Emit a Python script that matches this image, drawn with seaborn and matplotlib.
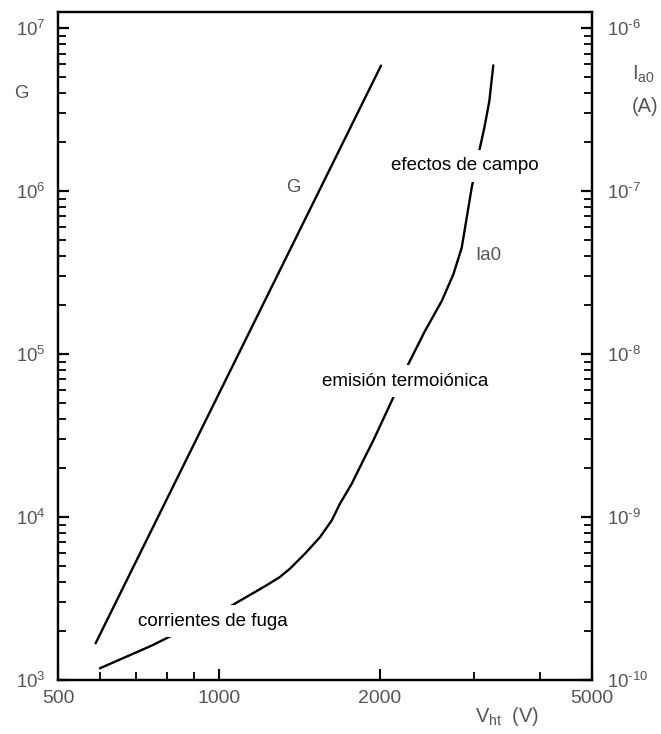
import matplotlib
matplotlib.use("Agg")
import matplotlib.pyplot as plt
import numpy as np
import seaborn as sns
from matplotlib import font_manager
from matplotlib.ticker import FixedLocator, LogLocator, NullFormatter, FuncFormatter

# Gain G of the multiplier versus high voltage (straight line on log-log axes)
v_gain = [588, 2013]
gain = [1.68e3, 5.9e6]

# Dark anode current Ia0 versus high voltage
v_ia0 = [599, 747, 1035, 1230, 1302, 1360, 1451, 1548, 1628, 1687, 1774,
         1865, 1947, 2109, 2265, 2434, 2616, 2750, 2851, 2913, 2976, 3076,
         3143, 3211, 3267]
ia0 = [1.18e-10, 1.62e-10, 2.75e-10, 3.82e-10, 4.29e-10, 4.83e-10, 5.97e-10,
       7.54e-10, 9.55e-10, 1.21e-9, 1.60e-9, 2.23e-9, 2.95e-9, 5.18e-9,
       8.70e-9, 1.39e-8, 2.12e-8, 3.09e-8, 4.50e-8, 6.87e-8, 1.05e-7,
       1.78e-7, 2.45e-7, 3.56e-7, 5.92e-7]

x_ticks = [500, 1000, 2000, 5000]
x_tick_labels = ["500", "1000", "2000", "5000"]
x_minor_ticks = [600, 700, 800, 900, 3000, 4000]

installed = {f.name for f in font_manager.fontManager.ttflist}
if "Liberation Sans Narrow" in installed:
    AXIS_FONT = "Liberation Sans Narrow"
    k = 1.1
else:
    AXIS_FONT = "Liberation Sans"
    k = 0.96

sns.set_theme(style="white")
plt.rcParams["font.family"] = [AXIS_FONT, "Liberation Sans", "DejaVu Sans"]
plt.rcParams["mathtext.fontset"] = "custom"
plt.rcParams["mathtext.rm"] = AXIS_FONT
plt.rcParams["mathtext.it"] = AXIS_FONT + ":italic"
plt.rcParams["axes.unicode_minus"] = False

GRAY = "#555555"
NOTE_FONT = ["Liberation Sans", "DejaVu Sans"]


def pow10(val, pos):
    e = int(round(np.log10(val)))
    return r"$\mathregular{10^{\text{%d}}}$" % e


fig = plt.figure(figsize=(6.61, 7.34), dpi=100)
ax = fig.add_axes([58 / 661, 54 / 734, 534 / 661, 668 / 734])
ax2 = ax.twinx()

sns.lineplot(x=v_gain, y=gain, ax=ax, color="black", linewidth=1.7, sort=False)
sns.lineplot(x=v_ia0, y=ia0, ax=ax2, color="black", linewidth=1.7, sort=False)

ax.set_xscale("log")
ax.set_yscale("log")
ax2.set_yscale("log")
ax.set_xlim(500, 5000)

ax.xaxis.set_major_locator(FixedLocator(x_ticks))
ax.set_xticklabels(x_tick_labels)
ax.xaxis.set_minor_locator(FixedLocator(x_minor_ticks))
ax.xaxis.set_minor_formatter(NullFormatter())

for a in (ax, ax2):
    a.yaxis.set_major_locator(LogLocator(base=10))
    a.yaxis.set_major_formatter(FuncFormatter(pow10))
    a.yaxis.set_minor_locator(LogLocator(base=10, subs=np.arange(2, 10)))
    a.yaxis.set_minor_formatter(NullFormatter())
    a.set_xlabel("")
    a.set_ylabel("")
    a.xaxis.offsetText.set_visible(False)
    a.yaxis.offsetText.set_visible(False)
    for s in a.spines.values():
        s.set_color("black")
        s.set_linewidth(1.6)
    a.grid(False)
ax2.xaxis.set_visible(False)
ax.xaxis.label.set_visible(False)
ax.yaxis.label.set_visible(False)
ax2.yaxis.label.set_visible(False)

ax.set_ylim(1e3, 10 ** 7.1)
ax2.set_ylim(1e-10, 10 ** -5.9)

ax.tick_params(axis="x", which="both", direction="in", bottom=True, top=False,
               colors="black", labelcolor=GRAY, labelsize=14.5 * k, pad=7)
ax.tick_params(axis="x", which="major", length=8, width=1.5)
ax.tick_params(axis="x", which="minor", length=5.5, width=1.3)
ax.tick_params(axis="y", which="both", direction="in", left=True, right=False,
               labelleft=True, labelright=False, colors="black",
               labelcolor=GRAY, labelsize=14 * k, pad=9)
ax.tick_params(axis="y", which="major", length=8, width=1.6)
ax.tick_params(axis="y", which="minor", length=6, width=1.3)
ax2.tick_params(axis="y", which="both", direction="in", right=True, left=False,
                labelright=True, labelleft=False, colors="black",
                labelcolor=GRAY, labelsize=14 * k, pad=10.5)
ax2.tick_params(axis="y", which="major", length=8, width=1.6)
ax2.tick_params(axis="y", which="minor", length=6, width=1.3)

# Curve annotations; white boxes open gaps in the curve behind the text
box = dict(boxstyle="square,pad=0.4", fc="white", ec="none")
ax2.text(2892, 1.43e-7, "efectos de campo", ha="center", va="center",
         fontsize=13.5, family=NOTE_FONT, color="black", bbox=box, zorder=5)
ax2.text(2233, 6.8e-9, "emisión termoiónica", ha="center", va="center",
         fontsize=13.5, family=NOTE_FONT, color="black", bbox=box, zorder=5)
ax2.text(975, 2.3e-10, "corrientes de fuga", ha="center", va="center",
         fontsize=13.5, family=NOTE_FONT, color="black", bbox=box, zorder=5)
ax2.text(3192, 4.06e-8, "Ia0", ha="center", va="center", fontsize=14 * k,
         color=GRAY, zorder=5)
ax.text(1379, 1.06e6, "G", ha="center", va="center", fontsize=14 * k,
        color=GRAY, zorder=5)

# Axis titles
fig.text(21.5 / 661, 1 - 93 / 734, "G", ha="center", va="center",
         fontsize=14 * k, color=GRAY)
fig.text(643 / 661, 1 - 74 / 734, r"I$_{\mathregular{a0}}$", ha="center",
         va="center", fontsize=15 * k, color=GRAY)
fig.text(645 / 661, 1 - 106 / 734, "(A)", ha="center", va="center",
         fontsize=15 * k, color=GRAY)
fig.text(507 / 661, 1 - 717 / 734, r"V$_{\mathregular{ht}}$  (V)", ha="center",
         va="center", fontsize=15 * k, color=GRAY)

fig.savefig("out.png", dpi=100)
